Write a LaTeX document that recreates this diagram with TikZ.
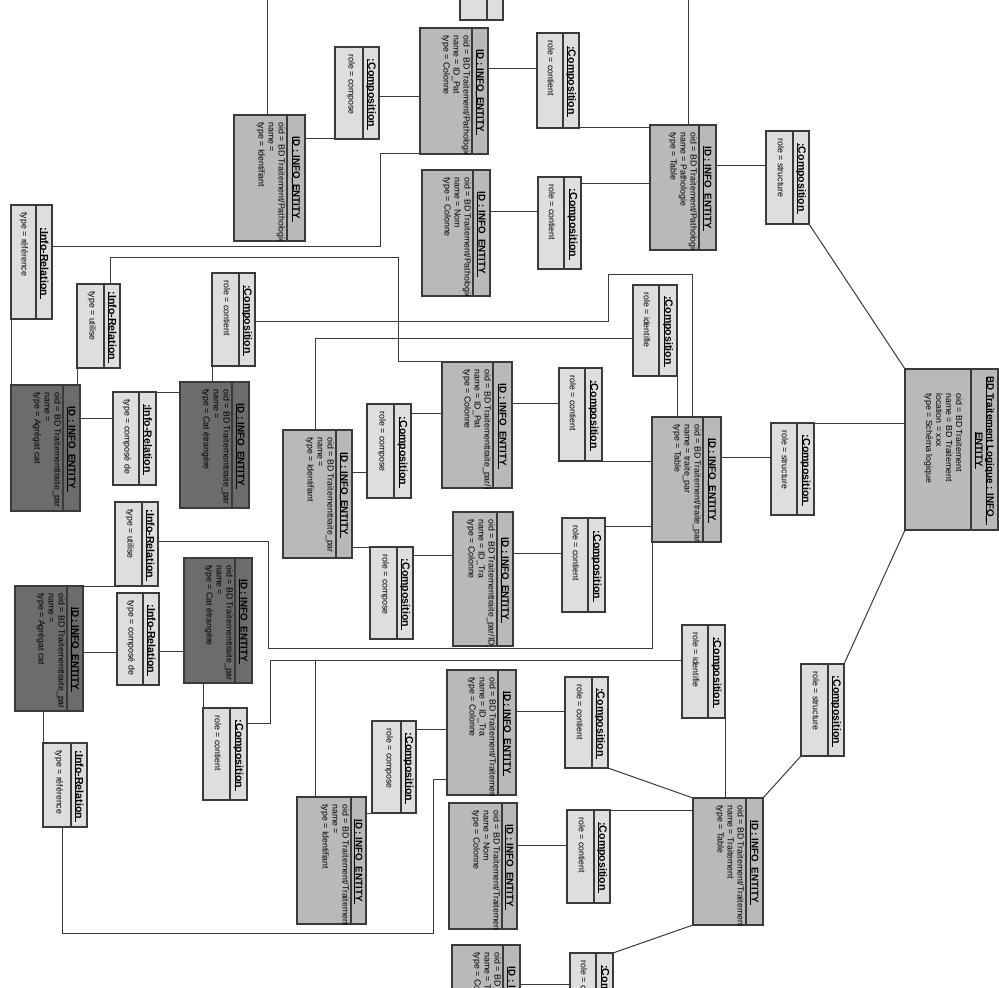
\documentclass[tikz,border=0pt]{standalone}
\usepackage{fontspec}
\setmainfont{Liberation Sans}
\definecolor{entfill}{HTML}{B9B9B9}
\definecolor{compfill}{HTML}{DEDEDE}
\definecolor{darkfill}{HTML}{6C6C6C}
\definecolor{edgecol}{HTML}{3A3A3A}
\newcommand\myattr{\fontsize{4.4}{5}\selectfont}
\newcommand\myetitle{\fontsize{4.9}{5.6}\selectfont\bfseries}
\newcommand\myctitle{\fontsize{5.3}{6}\selectfont\bfseries}
\newcommand\myul[1]{\setbox0\hbox{#1}\rlap{\rule[-0.6pt]{\dimexpr\wd0+1.2pt\relax}{0.3pt}}\box0}
\newcommand\attrdx{1.5}
\newcommand\attrdy{7}
\tikzset{
  boxshape/.style={rectangle, draw=edgecol, line width=0.6pt, anchor=north west, inner sep=0pt, outer sep=0pt},
  boxline/.style={draw=edgecol, line width=0.6pt},
  conn/.style={draw=edgecol, line width=0.5pt},
}
% name, x1, y1, x2, y2, divider x, fill, title, attributes
\newcommand\entbox[9]{%
  \node[boxshape, fill=#7, minimum width={((#4)-(#2))*0.5pt}, minimum height={((#5)-(#3))*0.5pt}] (#1) at (#2,#3) {};
  \draw[boxline] (#6,#3) -- (#6,#5);
  \begin{scope}
    \clip (#2,#3) rectangle (#4,#5);
    \node[rotate=-90, font=\myetitle, inner sep=0pt, align=center] at ({((#6)+(#4))/2},{((#3)+(#5))/2}) {#8};
    \node[rotate=-90, anchor=north west, font=\myattr, inner sep=0pt, align=left] at ({(#6)-\attrdx},{(#3)+\attrdy}) {#9};
  \end{scope}
}
% name, x1, y1, x2, y2, divider x, title, attribute
\newcommand\compbox[8]{%
  \node[boxshape, fill=compfill, minimum width={((#4)-(#2))*0.5pt}, minimum height={((#5)-(#3))*0.5pt}] (#1) at (#2,#3) {};
  \draw[boxline] (#6,#3) -- (#6,#5);
  \begin{scope}
    \clip (#2,#3) rectangle (#4,#5);
    \node[rotate=-90, font=\myctitle, inner sep=0pt] at ({((#6)+(#4))/2},{((#3)+(#5))/2}) {#7};
    \node[rotate=-90, anchor=west, font=\myattr, inner sep=0pt] at ({(#6)-12},{(#3)+7}) {#8};
  \end{scope}
}
\newcommand\entT{\myul{ID : INFO\_ENTITY}}
\newcommand\compT{\myul{:Composition}}
\newcommand\relT{\myul{:Info-Relation}}
\begin{document}
\begin{tikzpicture}[x=0.5pt, y=-0.5pt]
\fill[white] (0,0) rectangle (999,988);
\useasboundingbox (0,0) rectangle (999,988);

\coordinate (topA) at (267,0);
\coordinate (topPT) at (688,0);
\coordinate (jT) at (315,660);

% ---------------- Pathologie group ----------------
\entbox{A}{234}{115}{305}{241}{287}{entfill}{\entT}{oid = BD Traitement/Pathologie\\name =\\type = Identifiant}
\compbox{C1}{335}{47}{379}{139}{363}{\compT}{role = compose}
\entbox{B}{420}{28}{488}{154}{472}{entfill}{\entT}{oid = BD Traitement/Pathologie\\name = ID\_Pat\\type = Colonne}
\compbox{TF}{460}{-10}{503}{20}{487}{}{}
\compbox{C2}{537}{33}{579}{128}{563}{\compT}{role = contient}
\entbox{PT}{650}{125}{716}{250}{699}{entfill}{\entT}{oid = BD Traitement/Pathologie\\name = Pathologie\\type = Table}
\compbox{S1}{766}{131}{809}{224}{793}{\compT}{role = structure}
\entbox{NomP}{422}{170}{490}{296}{473}{entfill}{\entT}{oid = BD Traitement/Pathologie\\name = Nom\\type = Colonne}
\compbox{C3}{538}{177}{581}{269}{564}{\compT}{role = contient}

% ---------------- BD root ----------------
\renewcommand\attrdx{8}\renewcommand\attrdy{24}
\entbox{BD}{905}{369}{998}{530}{971}{entfill}{\myul{BD Traitement Logique : INFO\_}\\\myul{ENTITY}}{oid = BD Traitement\\name = BD Traitement\\location = xxx\\type = Schéma logique}
\renewcommand\attrdx{1.5}\renewcommand\attrdy{7}

% ---------------- traite_par group ----------------
\compbox{R1}{11}{205}{52}{319}{36}{\relT}{type = référence}
\compbox{U1}{77}{284}{120}{368}{104}{\relT}{type = utilise}
\compbox{C4}{212}{273}{255}{366}{239}{\compT}{role = contient}
\entbox{D1}{11}{385}{80}{511}{63}{darkfill}{\entT}{oid = BD Traitementtraite\_par\\name =\\type = Agrégat cat}
\compbox{P1}{113}{392}{156}{485}{139}{\relT}{type = composé de}
\entbox{D2}{180}{382}{249}{508}{232}{darkfill}{\entT}{oid = BD Traitementtraite\_par\\name =\\type = Cat étrangère}
\entbox{IdTP}{283}{430}{352}{558}{336}{entfill}{\entT}{oid = BD Traitementtraite\_par\\name =\\type = Identifiant}
\compbox{C5}{367}{404}{411}{498}{394}{\compT}{role = compose}
\entbox{PatTP}{442}{362}{512}{488}{493}{entfill}{\entT}{oid = BD Traitementtraite\_par/ID\_Pat\\name = ID\_Pat\\type = Colonne}
\compbox{C6}{559}{368}{602}{461}{585}{\compT}{role = contient}
\compbox{I1}{633}{285}{677}{376}{659}{\compT}{role = identifie}
\entbox{TT}{652}{417}{721}{542}{703}{entfill}{\entT}{oid = BD Traitement/traite\_par\\name = traite\_par\\type = Table}
\compbox{S2}{771}{423}{814}{515}{797}{\compT}{role = structure}
\compbox{C7}{370}{547}{413}{639}{397}{\compT}{role = compose}
\entbox{TraTP}{453}{512}{513}{646}{497}{entfill}{\entT}{oid = BD Traitementtraite\_par/ID\_Tra\\name = ID\_Tra\\type = Colonne}
\compbox{C8}{562}{518}{605}{612}{588}{\compT}{role = contient}

% ---------------- Traitement group ----------------
\compbox{U2}{115}{502}{158}{586}{142}{\relT}{type = utilise}
\entbox{D3}{15}{586}{83}{711}{67}{darkfill}{\entT}{oid = BD Traitementtraite\_par\\name =\\type = Agrégat cat}
\compbox{P2}{117}{593}{159}{685}{143}{\relT}{type = composé de}
\entbox{D4}{184}{558}{252}{683}{235}{darkfill}{\entT}{oid = BD Traitementtraite\_par\\name =\\type = Cat étrangère}
\compbox{C9}{203}{708}{247}{800}{230}{\compT}{role = contient}
\compbox{R2}{43}{743}{87}{827}{71}{\relT}{type = référence}
\compbox{I2}{682}{625}{725}{718}{708}{\compT}{role = identifie}
\compbox{S3}{801}{664}{844}{756}{828}{\compT}{role = structure}
\entbox{TraT}{447}{670}{516}{795}{498}{entfill}{\entT}{oid = BD Traitement/Traitement/ID\_Tra\\name = ID\_Tra\\type = Colonne}
\compbox{C10}{565}{677}{608}{768}{592}{\compT}{role = contient}
\compbox{C11}{372}{721}{416}{813}{401}{\compT}{role = compose}
\entbox{IdT}{297}{797}{366}{924}{351}{entfill}{\entT}{oid = BD Traitement/Traitement\\name =\\type = Identifiant}
\entbox{NomT}{449}{803}{517}{929}{502}{entfill}{\entT}{oid = BD Traitement/Traitement/Nom\\name = Nom\\type = Colonne}
\compbox{C12}{567}{810}{610}{903}{594}{\compT}{role = contient}
\entbox{TR}{693}{798}{763}{925}{746}{entfill}{\entT}{oid = BD Traitement/Traitement\\name = Traitement\\type = Table}
\entbox{BF}{452}{945}{520}{1071}{503}{entfill}{\entT}{oid = BD Traitement/Traitement/Type\\name = Type\\type = Colonne}
\compbox{C13}{570}{953}{613}{1046}{596}{\compT}{role = contient}

% ---------------- connectors ----------------
\begin{scope}[conn]
% Pathologie
\draw (A.north -| topA) -- (topA);
\draw (A.east |- C1.south west) -- (C1.south west);
\draw (C1.east |- 0,97) -- (B.west |- 0,97);
\draw (B.east |- 0,69) -- (C2.west |- 0,69);
\draw (C2.south east) -- (PT.west |- C2.south east);
\draw (PT.north -| topPT) -- (topPT);
\draw (PT.east |- 0,166) -- (S1.west |- 0,166);
\draw (S1.south east) -- (BD.north west);
\draw (NomP.east |- 0,212) -- (C3.west |- 0,212);
\draw (C3.east |- 0,184) -- (PT.west |- 0,184);
\draw (B.south west) -- (B.south west -| 380,0) |- (R1.east |- 0,247);
% traite_par
\draw (U1.north -| 110,0) |- (398,258) |- (PatTP.north west);
\draw (C4.east |- 0,322) -| (608,275) -| (TT.north -| 692,0);
\draw (IdTP.north -| 315,0) |- (I1.west |- 0,339);
\draw (I1.south east) -- (I1.south east |- TT.north);
\draw (TT.east |- 0,457) -- (S2.west |- 0,457);
\draw (S2.north east) -- (S2.north east -| BD.west);
\draw (R1.south west) -- (R1.south west |- D1.north);
\draw (U1.south west) -- (U1.south west |- D1.north);
\draw (D1.east |- 0,418) -- (P1.west |- 0,418);
\draw (P1.north east) -- (P1.north east -| D2.west);
\draw (C4.south west) -- (C4.south west |- D2.north);
\draw (IdTP.east |- 0,472) -- (C5.west |- 0,472);
\draw (C5.east |- 0,413) -- (PatTP.west |- 0,413);
\draw (PatTP.east |- 0,403) -- (C6.west |- 0,403);
\draw (C6.south east) -- (C6.south east -| TT.west);
\draw (IdTP.east |- C7.north west) -- (C7.north west);
\draw (C7.east |- 0,555) -- (TraTP.west |- 0,555);
\draw (TraTP.east |- 0,553) -- (C8.west |- 0,553);
\draw (C8.east |- 0,526) -- (TT.west |- 0,526);
% root to Traitement
\draw (BD.south west) -- (S3.north east);
\draw (S3.south west) -- (TR.north east);
% Traitement
\draw (U2.east |- 0,541) -| (268,648) -| (TT.south west);
\draw (C9.east |- 0,723) -| (270,660) -- (I2.west |- jT);
\draw (IdT.north -| jT) -- (jT);
\draw (I2.south east) -- (I2.south east |- TR.north);
\draw (U2.south west) -- (D3.north east);
\draw (D3.east |- 0,652) -- (P2.west |- 0,652);
\draw (P2.east |- 0,651) -- (D4.west |- 0,651);
\draw (C9.north west |- D4.south) -- (C9.north west);
\draw (R2.north west |- D3.south) -- (R2.north west);
\draw (R2.south -| 62,0) |- (433,933) |- (TraT.west |- 0,779);
\draw (TraT.east |- 0,711) -- (C10.west |- 0,711);
\draw (C10.south east) -- (TR.north west);
\draw (C11.east |- 0,729) -- (TraT.west |- 0,729);
\draw (C11.south west) -- (C11.south west -| IdT.east);
\draw (NomT.east |- 0,845) -- (C12.west |- 0,845);
\draw (C12.north east) -- (C12.north east -| TR.west);
\draw (TR.south west) -- (C13.north east);
\draw (BF.east |- 0,984) -- (C13.west |- 0,984);
\end{scope}
\end{tikzpicture}
\end{document}
